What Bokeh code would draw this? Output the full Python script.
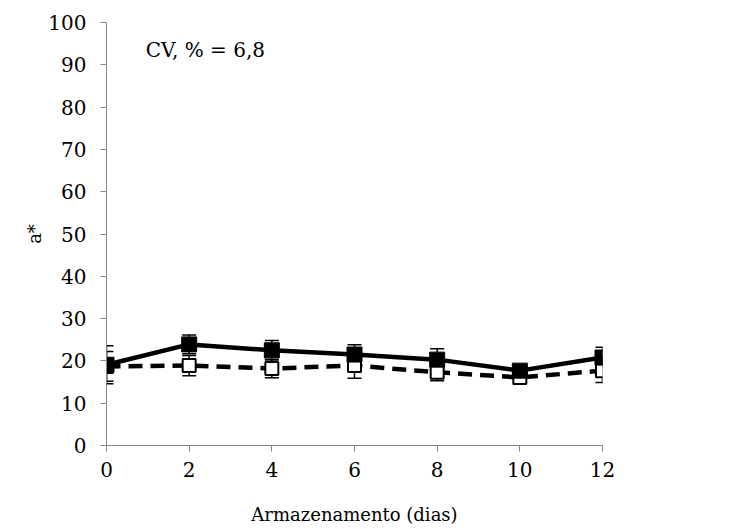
from bokeh.plotting import figure
from bokeh.models import ColumnDataSource, Whisker, TeeHead, Range1d, FixedTicker, Label
from bokeh.embed import file_html
from bokeh.resources import INLINE

days = [0, 2, 4, 6, 8, 10, 12]
filled = [19.1, 23.9, 22.5, 21.5, 20.3, 17.7, 20.8]
filled_err = [4.5, 2.2, 2.3, 2.3, 2.6, 1.3, 2.4]
open_vals = [18.7, 18.9, 18.2, 18.9, 17.3, 16.1, 17.7]
open_err = [3.5, 2.4, 2.2, 3.0, 2.0, 1.5, 2.8]
y_ticks = list(range(0, 101, 10))
x_ticks = days
annot = "CV, % = 6,8"

FONT = "DejaVu Serif"

p = figure(width=740, height=527, output_backend="svg", toolbar_location=None,
           x_range=Range1d(0, 12), y_range=Range1d(0, 100),
           min_border_left=106, min_border_right=138, min_border_top=22, min_border_bottom=82)
p.outline_line_color = None
p.xgrid.visible = False
p.ygrid.visible = False

for ax in (p.xaxis[0], p.yaxis[0]):
    ax.axis_line_color = "#868686"
    ax.major_tick_line_color = "#868686"
    ax.minor_tick_line_color = None
    ax.major_tick_in = 0
    ax.major_tick_out = 6
    ax.major_label_text_font = FONT
    ax.major_label_text_font_size = "20px"
    ax.major_label_text_color = "black"
    ax.axis_label_text_font = FONT
    ax.axis_label_text_font_size = "18px"
    ax.axis_label_text_font_style = "normal"
    ax.axis_label_text_color = "black"

p.xaxis.ticker = FixedTicker(ticks=x_ticks)
p.yaxis.ticker = FixedTicker(ticks=y_ticks)
p.xaxis.axis_label = "Armazenamento (dias)"
p.yaxis.axis_label = "a*"
p.xaxis.major_label_standoff = 10
p.yaxis.major_label_standoff = 14
p.xaxis.axis_label_standoff = 24
p.yaxis.axis_label_standoff = 0

src_o = ColumnDataSource(dict(x=days, y=open_vals,
                              lo=[v - e for v, e in zip(open_vals, open_err)],
                              hi=[v + e for v, e in zip(open_vals, open_err)]))
src_f = ColumnDataSource(dict(x=days, y=filled,
                              lo=[v - e for v, e in zip(filled, filled_err)],
                              hi=[v + e for v, e in zip(filled, filled_err)]))

# open series
p.add_layout(Whisker(source=src_o, base="x", lower="lo", upper="hi", line_color="black", line_width=1.5,
                     upper_head=TeeHead(size=14, line_color="black", line_width=1.5),
                     lower_head=TeeHead(size=14, line_color="black", line_width=1.5)))
p.line("x", "y", source=src_o, line_color="black", line_width=4.5, line_dash="14 8")
p.scatter("x", "y", source=src_o, marker="square", size=13, fill_color="white",
          line_color="black", line_width=2)

# filled series
p.add_layout(Whisker(source=src_f, base="x", lower="lo", upper="hi", line_color="black", line_width=1.5,
                     upper_head=TeeHead(size=14, line_color="black", line_width=1.5),
                     lower_head=TeeHead(size=14, line_color="black", line_width=1.5)))
p.line("x", "y", source=src_f, line_color="black", line_width=4.5)
p.scatter("x", "y", source=src_f, marker="square", size=15, fill_color="black",
          line_color="black", line_width=1)

p.add_layout(Label(x=0.95, y=93.4, text=annot, text_font=FONT, text_font_size="20px",
                   text_color="black", text_baseline="middle"))

open("out.html", "w").write(file_html(p, INLINE))
